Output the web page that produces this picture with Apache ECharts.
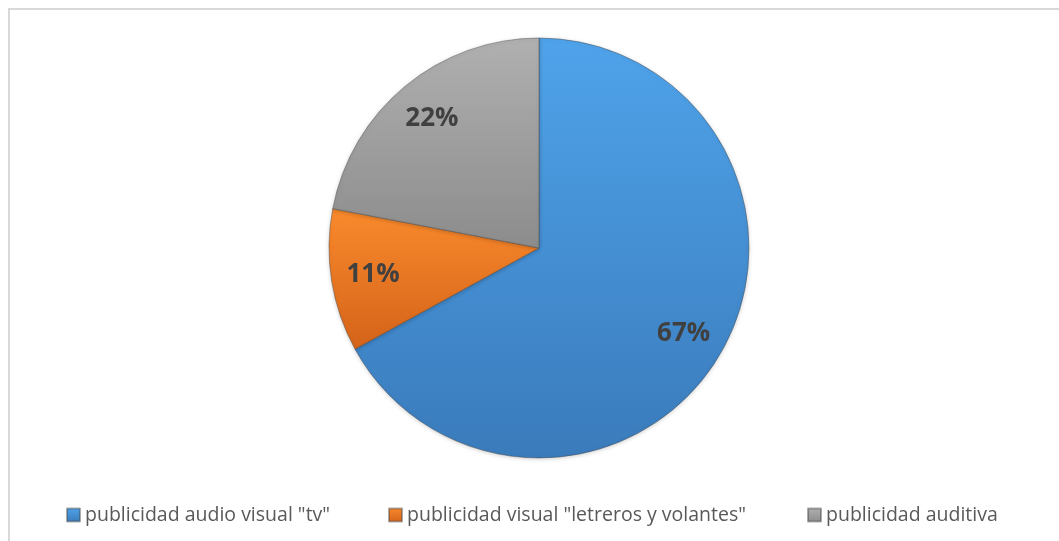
<!DOCTYPE html>
<html>
<head>
<meta charset="utf-8">
<script src="https://cdn.jsdelivr.net/npm/echarts@6/dist/echarts.min.js"></script>
<style>
  html, body { margin: 0; padding: 0; background: #fff; }
  #frame { position: absolute; left: 8px; top: 8px; width: 1060px; height: 540px;
           border-left: 2px solid #d9d9d9; border-top: 2px solid #d9d9d9; box-sizing: border-box; }
  #chart { position: absolute; left: 0; top: 0; width: 1059px; height: 541px; }
</style>
</head>
<body>
<div id="frame"></div>
<div id="chart"></div>
<script>
// Medios de publicidad (porcentaje de respuestas)
const categories = ['publicidad audio visual "tv"', 'publicidad visual "letreros y volantes"', 'publicidad auditiva'];
const values = [67, 11, 22];

// Top/bottom shades for each slice (Excel-like vertical gradient)
const shades = [
  ['#4fa3ea', '#3a7bbb'],
  ['#fa8a2c', '#d4631a'],
  ['#b0b0b0', '#8c8c8c']
];

function grad(pair) {
  return new echarts.graphic.LinearGradient(0, 0, 0, 1, [
    { offset: 0, color: pair[0] },
    { offset: 1, color: pair[1] }
  ]);
}

const sliceData = categories.map((name, i) => ({
  name: name,
  value: values[i],
  itemStyle: { color: grad(shades[i]) }
}));

const labelData = categories.map((name, i) => ({ name: name, value: values[i] }));

const legendFont = { fontFamily: '"Open Sans", sans-serif', fontSize: 19.5, color: '#595959' };
const legendCommon = {
  orient: 'horizontal', top: 500, icon: 'rect', itemWidth: 13, itemHeight: 13, itemGap: 6,
  textStyle: legendFont, selectedMode: false
};

const chart = echarts.init(document.getElementById('chart'), null, { renderer: 'canvas' });
chart.setOption({
  backgroundColor: 'transparent',
  animation: false,
  legend: [
    Object.assign({ left: 61, data: [categories[0]] }, legendCommon),
    Object.assign({ left: 383, data: [categories[1]] }, legendCommon),
    Object.assign({ left: 802, data: [categories[2]] }, legendCommon)
  ],
  series: [
    {
      type: 'pie',
      center: [539, 248],
      radius: [0, 210],
      startAngle: 90,
      clockwise: true,
      silent: true,
      label: { show: false },
      labelLine: { show: false },
      itemStyle: {
        borderColor: 'rgba(70,70,70,0.45)',
        borderWidth: 1,
        shadowColor: 'rgba(0,0,0,0.18)',
        shadowBlur: 4,
        shadowOffsetY: 1
      },
      data: sliceData
    },
    {
      // transparent copy used only to place the percentage labels
      type: 'pie',
      center: [539, 248],
      radius: [0, 330],
      startAngle: 90,
      clockwise: true,
      silent: true,
      legendHoverLink: false,
      itemStyle: { color: 'rgba(0,0,0,0)' },
      label: {
        show: true,
        position: 'inside',
        formatter: '{c}%',
        fontFamily: '"Open Sans", sans-serif',
        fontWeight: 'bold',
        fontSize: 26,
        color: '#404040'
      },
      labelLine: { show: false },
      data: labelData
    }
  ]
});
</script>
</body>
</html>
